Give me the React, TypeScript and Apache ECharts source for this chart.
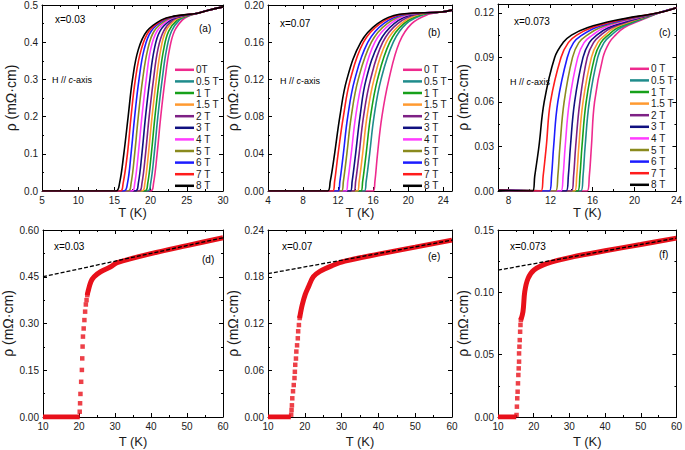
import React, { useEffect, useRef } from "react";
import * as echarts from "echarts";

const FONT = "'Liberation Sans', Arial, Helvetica, sans-serif";
const TXT = "#1a1a1a";

// ---------- field labels / colours ----------
const fieldsA = ["0T", "0.5 T", "1 T", "1.5 T", "2 T", "3 T", "4 T", "5 T", "6 T", "7 T", "8 T"];
const fieldsBC = ["0 T", "0.5 T", "1 T", "1.5 T", "2 T", "3 T", "4 T", "5 T", "6 T", "7 T", "8 T"];
const fieldColors = ["#ee2a8e", "#1f8c8c", "#17a01a", "#ff9a30", "#7e2185", "#101080", "#ff3cff", "#8a8a1e", "#1c1cff", "#ff1c1c", "#000000"];

// ---------- panel (a) x=0.03 : T (K) at each rho level, per field ----------
const rhoLevelsA = [0, 0.02, 0.1, 0.2, 0.3, 0.38, 0.43, 0.46, 0.47];
const tempsA = [
  [20.0, 20.4, 20.9, 21.4, 22.0, 22.6, 23.3, 24.4, 25.2],
  [19.6, 20.0, 20.5, 21.0, 21.6, 22.2, 22.9, 24.0, 25.0],
  [19.2, 19.6, 20.1, 20.6, 21.2, 21.8, 22.5, 23.7, 24.8],
  [18.8, 19.2, 19.7, 20.2, 20.8, 21.4, 22.1, 23.4, 24.6],
  [18.4, 18.8, 19.3, 19.8, 20.4, 21.0, 21.8, 23.1, 24.4],
  [17.9, 18.3, 18.8, 19.3, 19.9, 20.5, 21.3, 22.8, 24.2],
  [17.4, 17.8, 18.3, 18.8, 19.4, 20.0, 20.9, 22.5, 24.0],
  [16.9, 17.3, 17.8, 18.3, 18.9, 19.6, 20.5, 22.2, 23.8],
  [16.3, 16.8, 17.3, 17.8, 18.4, 19.1, 20.1, 21.9, 23.6],
  [15.8, 16.2, 16.8, 17.3, 17.9, 18.7, 19.8, 21.7, 23.4],
  [15.2, 15.7, 16.3, 16.9, 17.5, 18.3, 19.5, 21.5, 23.2],
];
const startA = [5, 0];
const tailTA = [26.5, 28, 30];
const tailRhoA = [0.478, 0.486, 0.495];

// ---------- panel (b) x=0.07 ----------
const rhoLevelsB = [0, 0.01, 0.04, 0.08, 0.12, 0.16, 0.18, 0.19];
const tempsB = [
  [16.0, 16.2, 16.5, 17.0, 17.8, 19.0, 20.4, 22.3],
  [15.0, 15.2, 15.6, 16.1, 16.9, 18.3, 19.8, 21.9],
  [14.6, 14.8, 15.2, 15.7, 16.5, 17.9, 19.5, 21.6],
  [14.2, 14.4, 14.8, 15.3, 16.1, 17.5, 19.2, 21.3],
  [13.8, 14.0, 14.4, 14.9, 15.7, 17.1, 18.8, 21.0],
  [13.4, 13.6, 14.0, 14.5, 15.2, 16.7, 18.4, 20.6],
  [12.9, 13.1, 13.5, 14.0, 14.8, 16.2, 18.0, 20.3],
  [12.4, 12.6, 13.0, 13.5, 14.3, 15.8, 17.6, 20.0],
  [12.0, 12.2, 12.6, 13.1, 13.9, 15.4, 17.2, 19.7],
  [11.4, 11.6, 12.0, 12.6, 13.4, 14.9, 16.8, 19.3],
  [10.8, 11.1, 11.6, 12.2, 13.0, 14.6, 16.5, 19.0],
];
const startB = [4, 0];
const tailTB = [23.8, 25];
const tailRhoB = [0.1925, 0.1945];

// ---------- panel (c) x=0.073 ----------
const rhoLevelsC = [0, 0.01, 0.03, 0.06, 0.09, 0.1, 0.105, 0.11, 0.115];
const tempsC = [
  [15.5, 15.7, 15.9, 16.2, 17.0, 17.6, 18.2, 19.0, 20.6],
  [14.9, 15.1, 15.3, 15.7, 16.5, 17.1, 17.8, 18.7, 20.4],
  [14.6, 14.8, 15.0, 15.4, 16.2, 16.8, 17.5, 18.4, 20.2],
  [14.3, 14.5, 14.7, 15.1, 15.9, 16.5, 17.2, 18.1, 20.0],
  [14.0, 14.2, 14.4, 14.8, 15.5, 16.1, 16.8, 17.8, 19.8],
  [13.5, 13.7, 13.9, 14.3, 15.1, 15.7, 16.4, 17.5, 19.6],
  [13.0, 13.2, 13.4, 13.8, 14.6, 15.2, 16.0, 17.1, 19.3],
  [12.5, 12.7, 12.9, 13.3, 14.1, 14.7, 15.5, 16.7, 19.0],
  [11.9, 12.1, 12.3, 12.7, 13.6, 14.2, 15.0, 16.3, 18.8],
  [11.1, 11.3, 11.6, 12.0, 13.0, 13.7, 14.5, 15.9, 18.5],
  [10.3, 10.5, 10.9, 11.4, 12.4, 13.2, 14.0, 15.5, 18.2],
];
const startC = [7, 0.0005];
const tailTC = [22.5, 24];
const tailRhoC = [0.1205, 0.1235];

// ---------- panel (d) x=0.03, zero field ----------
const dFlatT = [10, 20.2];
const dFlatRho = [0, 0];
const dSparseT = [20.2, 20.3, 20.4, 20.6, 20.8, 20.9, 21.0, 21.1, 21.3, 21.5, 21.7, 21.9, 22.1, 22.3];
const dSparseRho = [0.017, 0.044, 0.074, 0.113, 0.151, 0.188, 0.226, 0.258, 0.284, 0.311, 0.338, 0.361, 0.375, 0.391];
const dDenseT = [22.3, 22.5, 23.3, 24.2, 26.0, 28.8, 30.6, 40, 50, 60];
const dDenseRho = [0.391, 0.402, 0.434, 0.45, 0.466, 0.482, 0.495, 0.524, 0.55, 0.575];
const dFitT = [10, 60];
const dFitRho = [0.45, 0.575];

// ---------- panel (e) x=0.07 ----------
const eFlatT = [10, 16.2];
const eFlatRho = [0, 0];
const eSparseT = [16.3, 16.4, 16.5, 16.6, 16.8, 17.0, 17.2, 17.3, 17.4, 17.6, 17.7, 17.9, 18.1, 18.2, 18.4, 18.6];
const eSparseRho = [0.003, 0.009, 0.015, 0.024, 0.033, 0.041, 0.05, 0.058, 0.067, 0.075, 0.084, 0.092, 0.101, 0.11, 0.118, 0.127];
const eDenseT = [18.6, 18.9, 19.3, 20.1, 21.0, 22.3, 24.1, 27.3, 30.9, 40, 50, 60];
const eDenseRho = [0.127, 0.135, 0.144, 0.157, 0.167, 0.18, 0.187, 0.194, 0.2, 0.209, 0.218, 0.227];
const eFitT = [10, 60];
const eFitRho = [0.184, 0.227];

// ---------- panel (f) x=0.073 ----------
const fFlatT = [10, 15.1];
const fFlatRho = [0, 0];
const fSparseT = [15.2, 15.3, 15.4, 15.5, 15.6, 15.7, 15.8, 15.9, 15.9, 16.0, 16.1, 16.2, 16.3, 16.4];
const fSparseRho = [0.0016, 0.0083, 0.015, 0.0203, 0.027, 0.0337, 0.039, 0.0444, 0.051, 0.0564, 0.0617, 0.0684, 0.0738, 0.0778];
const fDenseT = [16.4, 17.0, 17.5, 18.4, 20.1, 23.8, 31.2, 40, 50, 60];
const fDenseRho = [0.0778, 0.0845, 0.1005, 0.111, 0.1179, 0.1232, 0.1286, 0.1333, 0.1384, 0.1435];
const fFitT = [10, 60];
const fFitRho = [0.1178, 0.1435];

// ---------- tick values ----------
const cMajorTicks = [8, 12, 16, 20, 24];
const cMinorTicks = [10, 14, 18, 22];

const RED = "#e8101a";

function zip(xs: number[], ys: number[]) {
  return xs.map((x, i) => [x, ys[i]]);
}

export default function App() {
  const ref = useRef<HTMLDivElement>(null);
  useEffect(() => {
    if (!ref.current) return;
    const chart = echarts.init(ref.current, undefined, { renderer: "svg" });

    const grids = [
      { left: 42, top: 4, width: 181, height: 187 },
      { left: 268, top: 5, width: 184, height: 186 },
      { left: 498, top: 4, width: 182, height: 187 },
      { left: 42, top: 230, width: 181, height: 187 },
      { left: 268, top: 230, width: 184, height: 187 },
      { left: 498, top: 230, width: 181, height: 187 },
    ].map((g) => ({ ...g, show: false, containLabel: false }));

    const xAxes: any[] = [];
    const yAxes: any[] = [];
    const lineStyle = { color: "#000", width: 1 };

    function addAxes(gi: number, xc: any, yc: any) {
      const xi = xAxes.length;
      for (const pos of ["bottom", "top"]) {
        const main = pos === "bottom";
        const a: any = {
          type: "value",
          gridIndex: gi,
          position: pos,
          min: xc.min,
          max: xc.max,
          axisLine: { show: true, onZero: false, lineStyle },
          splitLine: { show: false },
          minorSplitLine: { show: false },
          axisTick: { show: true, inside: true, length: 4, lineStyle },
          minorTick: { show: true, splitNumber: 2, length: 2, lineStyle },
          axisLabel: {
            show: main,
            fontSize: 10,
            color: TXT,
            fontFamily: FONT,
            margin: 4,
            showMaxLabel: xc.showMaxLabel !== false,
            formatter: (v: number) => String(Math.round(v * 10) / 10),
          },
        };
        if (xc.custom) {
          a.axisTick.customValues = xc.custom;
          a.axisLabel.customValues = xc.custom;
          a.minorTick = { show: false };
        } else {
          a.interval = xc.interval;
        }
        if (main) {
          a.name = "T (K)";
          a.nameLocation = "middle";
          a.nameGap = xc.nameGap;
          a.nameTextStyle = { fontSize: 13, color: TXT, fontFamily: FONT };
        }
        xAxes.push(a);
      }
      if (xc.minorCustom) {
        for (const pos of ["bottom", "top"]) {
          xAxes.push({
            type: "value",
            gridIndex: gi,
            position: pos,
            min: xc.min,
            max: xc.max,
            axisLine: { show: false, onZero: false },
            splitLine: { show: false },
            axisTick: { show: true, inside: true, length: 2, lineStyle, customValues: xc.minorCustom },
            axisLabel: { show: false, customValues: xc.minorCustom },
          });
        }
      }
      const yi = yAxes.length;
      for (const pos of ["left", "right"]) {
        const main = pos === "left";
        const a: any = {
          type: "value",
          gridIndex: gi,
          position: pos,
          min: yc.min,
          max: yc.max,
          interval: yc.interval,
          axisLine: { show: true, onZero: false, lineStyle },
          splitLine: { show: false },
          minorSplitLine: { show: false },
          axisTick: { show: true, inside: true, length: 4, lineStyle },
          minorTick: { show: true, splitNumber: 2, length: 2, lineStyle },
          axisLabel: {
            show: main,
            fontSize: 10,
            color: TXT,
            fontFamily: FONT,
            margin: 4,
            showMaxLabel: yc.showMaxLabel !== false,
            formatter: (v: number) => v.toFixed(yc.dec),
          },
        };
        if (main) {
          a.name = "ρ (mΩ·cm)";
          a.nameLocation = "middle";
          a.nameGap = yc.nameGap;
          a.nameTextStyle = { fontSize: 14, color: TXT, fontFamily: FONT };
        }
        yAxes.push(a);
      }
      return { xi, yi };
    }

    const axA = addAxes(0, { min: 5, max: 30, interval: 5, nameGap: 15 }, { min: 0, max: 0.5, interval: 0.1, dec: 1, nameGap: 24 });
    const axB = addAxes(1, { min: 4, max: 25, interval: 4, nameGap: 15, showMaxLabel: false }, { min: 0, max: 0.2, interval: 0.04, dec: 2, nameGap: 28 });
    const axC = addAxes(2, { min: 7, max: 24, custom: cMajorTicks, minorCustom: cMinorTicks, nameGap: 15 }, { min: 0, max: 0.126, interval: 0.03, dec: 2, nameGap: 28, showMaxLabel: false });
    const axD = addAxes(3, { min: 10, max: 60, interval: 10, nameGap: 18 }, { min: 0, max: 0.6, interval: 0.15, dec: 2, nameGap: 28 });
    const axE = addAxes(4, { min: 10, max: 60, interval: 10, nameGap: 18 }, { min: 0, max: 0.24, interval: 0.06, dec: 2, nameGap: 28 });
    const axF = addAxes(5, { min: 10, max: 60, interval: 10, nameGap: 18 }, { min: 0, max: 0.15, interval: 0.05, dec: 2, nameGap: 28 });

    function topSeries(names: string[], levels: number[], temps: number[][], start: number[], tailT: number[], tailRho: number[], ax: any) {
      return names.map((n, i) => ({
        type: "line",
        name: n,
        xAxisIndex: ax.xi,
        yAxisIndex: ax.yi,
        symbol: "none",
        showSymbol: false,
        smooth: 0.4,
        color: fieldColors[i],
        itemStyle: { color: fieldColors[i] },
        lineStyle: { color: fieldColors[i], width: 1.6 },
        clip: true,
        data: [start, ...zip(temps[i], levels), ...zip(tailT, tailRho)],
      }));
    }

    function bottomSeries(id: string, ax: any, flatT: number[], flatR: number[], sT: number[], sR: number[], dT: number[], dR: number[], fT: number[], fR: number[]) {
      return [
        { type: "line", name: id + "-flat", xAxisIndex: ax.xi, yAxisIndex: ax.yi, symbol: "none", lineStyle: { color: RED, width: 5 }, clip: true, data: zip(flatT, flatR), z: 2 },
        { type: "scatter", name: id + "-sparse", xAxisIndex: ax.xi, yAxisIndex: ax.yi, symbol: "rect", symbolSize: 4.5, itemStyle: { color: RED }, data: zip(sT, sR), z: 2 },
        { type: "line", name: id + "-dense", xAxisIndex: ax.xi, yAxisIndex: ax.yi, symbol: "none", smooth: 0.35, lineStyle: { color: RED, width: 5 }, clip: true, data: zip(dT, dR), z: 2 },
        { type: "line", name: id + "-fit", xAxisIndex: ax.xi, yAxisIndex: ax.yi, symbol: "none", lineStyle: { color: "#000", width: 1.3, type: [4, 2] }, clip: true, data: zip(fT, fR), z: 5 },
      ];
    }

    const series = [
      ...topSeries(fieldsA, rhoLevelsA, tempsA, startA, tailTA, tailRhoA, axA),
      ...topSeries(fieldsBC, rhoLevelsB, tempsB, startB, tailTB, tailRhoB, axB),
      ...topSeries(fieldsBC, rhoLevelsC, tempsC, startC, tailTC, tailRhoC, axC),
      ...bottomSeries("d", axD, dFlatT, dFlatRho, dSparseT, dSparseRho, dDenseT, dDenseRho, dFitT, dFitRho),
      ...bottomSeries("e", axE, eFlatT, eFlatRho, eSparseT, eSparseRho, eDenseT, eDenseRho, eFitT, eFitRho),
      ...bottomSeries("f", axF, fFlatT, fFlatRho, fSparseT, fSparseRho, fDenseT, fDenseRho, fFitT, fFitRho),
    ];

    const legendBase = {
      orient: "vertical",
      icon: "rect",
      itemWidth: 19,
      itemHeight: 2.5,
      itemGap: 0,
      padding: 0,
      selectedMode: false,
      textStyle: { fontSize: 10, lineHeight: 11.6, color: TXT, fontFamily: FONT, padding: [0, 0, 0, -3] },
    };
    const legends = [
      { ...legendBase, left: 175, top: 64, data: fieldsA },
      { ...legendBase, left: 403, top: 64, data: fieldsBC },
      { ...legendBase, left: 630, top: 63, data: fieldsBC },
    ];

    const t = (text: string, left: number, top: number, size = 10, italic = false) => ({
      type: "text",
      left,
      top,
      silent: true,
      style: { text, fontSize: size, fontFamily: FONT, fontStyle: italic ? "italic" : "normal", fill: "#000000" },
    });
    const hc = (left: number, top: number) => [
      t("H //", left, top, 9),
      t("c", left + 16.5, top, 9, true),
      t("-axis", left + 21, top, 9),
    ];

    const graphic = [
      t("x=0.03", 55, 14),
      t("(a)", 199, 23),
      ...hc(52, 75),
      t("x=0.07", 280, 18),
      t("(b)", 428, 27),
      ...hc(280, 76),
      t("x=0.073", 514, 16),
      t("(c)", 659, 27),
      ...hc(510, 77),
      t("x=0.03", 54, 241),
      t("(d)", 202, 254),
      t("x=0.07", 282, 241),
      t("(e)", 428, 251),
      t("x=0.073", 510, 241),
      t("(f)", 659, 249),
    ];

    chart.setOption({
      animation: false,
      backgroundColor: "#fff",
      textStyle: { fontFamily: FONT },
      grid: grids,
      xAxis: xAxes,
      yAxis: yAxes,
      legend: legends,
      series,
      graphic,
    });
    return () => chart.dispose();
  }, []);
  return <div ref={ref} style={{ position: "fixed", left: 0, top: 0, width: 685, height: 450, background: "#fff" }} />;
}
